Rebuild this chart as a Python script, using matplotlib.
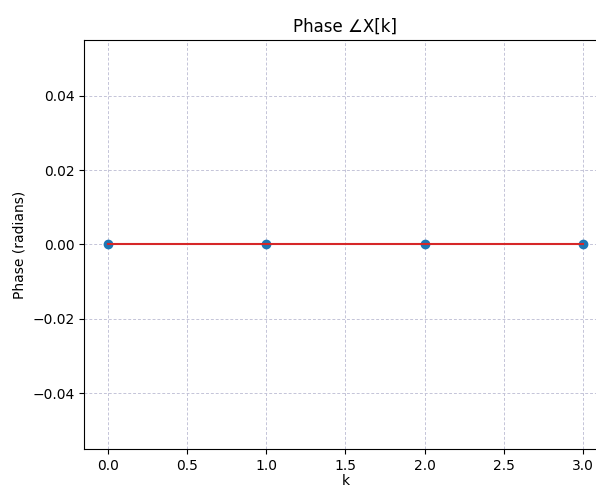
import numpy as np
import matplotlib.pyplot as plt

k = [0, 1, 2, 3]
phase = [0.0, 0.0, 0.0, 0.0]


def main():
    fig = plt.figure(figsize=(5.96, 4.87), dpi=100)
    ax = fig.add_axes([0.141, 0.078, 0.877, 0.84])

    ax.stem(k, phase, basefmt="C3-")

    ax.set_title("Phase ∠X[k]")
    ax.set_xlabel("k", labelpad=1)
    ax.set_ylabel("Phase (radians)")
    ax.grid(True, linestyle=(0, (3, 2)), color="#c4c4d8", linewidth=0.7)

    fig.savefig("out.png", dpi=100)


if __name__ == "__main__":
    main()
